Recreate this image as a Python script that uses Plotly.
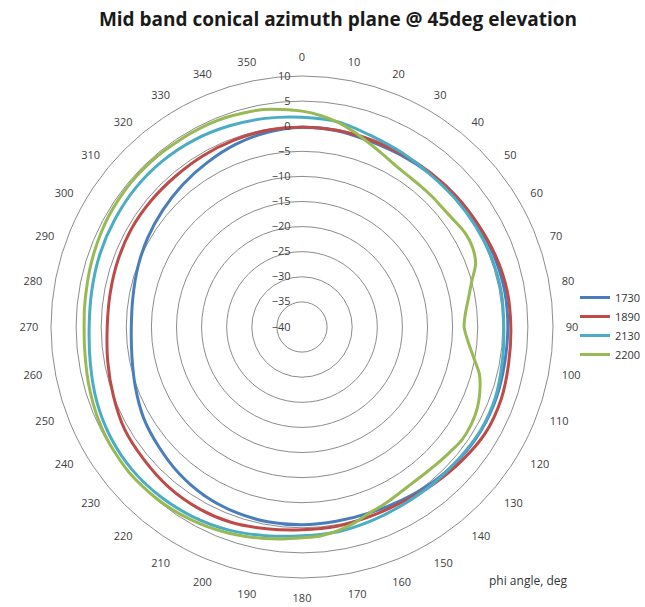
import plotly.graph_objects as go

theta = list(range(0, 361, 10))

s1730 = [-0.2, -0.3, -0.6, -0.5, -0.2, 0.2, 0.5, 0.8, 1.0, 1.0, 1.0, 1.2, 1.2, 0.9, 0.4, -0.2, -0.6, -0.7,
         -0.6, -0.6, -0.8, -1.2, -1.9, -2.8, -3.6, -4.7, -5.6, -6.0, -5.8, -5.2, -4.5, -3.8, -3.0, -2.2, -1.3, -0.6, -0.2]
s1890 = [-0.2, -0.2, -0.3, -0.2, 0.0, 0.3, 0.6, 1.1, 1.5, 1.6, 1.8, 2.2, 2.2, 1.5, 0.8, 0.2, 0.1, 0.3,
         0.4, 0.8, 1.4, 1.6, 1.5, 1.1, 0.8, 0.0, -0.7, -1.2, -1.2, -1.0, -0.8, -0.8, -0.8, -0.6, -0.4, -0.2, -0.2]
s2130 = [1.8, 1.5, 0.5, 0.0, -0.3, -0.2, 0.0, 0.2, 0.3, 0.2, 0.5, 1.0, 1.1, 0.8, 0.7, 0.7, 1.0, 1.4,
         1.6, 2.2, 3.0, 3.6, 4.0, 4.2, 4.0, 3.5, 2.8, 2.4, 2.5, 2.8, 3.0, 3.2, 3.2, 3.0, 2.6, 2.2, 1.8]
theta_g = list(range(0, 361, 5))
s2200 = [3.0, 2.3, 1.4, 0.2, -1.0, -2.0, -2.8, -3.2, -3.3, -3.3, -3.3, -3.0, -2.5, -2.5, -3.2, -5.0, -6.3, -7.3,
         -7.7, -6.8, -5.3, -3.4, -2.3, -1.5, -1.1, -1.0, -1.4, -1.7, -1.9, -1.9, -1.6, -1.1, -0.6, 0.4, 1.2, 1.8,
         2.0, 2.4, 2.8, 3.2, 3.6, 4.0, 4.3, 4.6, 4.8, 4.9, 5.0, 4.9, 4.8, 4.6, 4.3, 4.0, 3.7, 3.5, 3.4, 3.5,
         3.6, 3.8, 4.0, 4.2, 4.4, 4.5, 4.6, 4.6, 4.6, 4.5, 4.5, 4.5, 4.4, 4.2, 4.0, 3.5, 3.0]

names = ["1730", "1890", "2130", "2200"]
colors = ["#4A7EBB", "#BE4B48", "#4BACC6", "#98B954"]
radial_ticks = list(range(-40, 11, 5))
angle_ticks = list(range(0, 360, 10))

fig = go.Figure()
for nm, col, th, r in [(names[0], colors[0], theta, s1730), (names[1], colors[1], theta, s1890),
                       (names[2], colors[2], theta, s2130), (names[3], colors[3], theta_g, s2200)]:
    fig.add_trace(go.Scatterpolar(theta=th, r=r, mode="lines", name=nm,
                                  line=dict(color=col, width=3, shape="spline", smoothing=0.8)))

W, H = 645, 607
cx, cy, R = 302, 327, 251
fig.update_layout(
    width=W, height=H,
    margin=dict(l=0, r=0, t=0, b=0, autoexpand=False),
    paper_bgcolor="white",
    font=dict(family="Open Sans, Noto Sans, sans-serif", color="#333333"),
    title=dict(text="<b>Mid band conical azimuth plane @ 45deg elevation</b>",
               x=338 / W, y=1 - 19 / H, xanchor="center", yanchor="middle",
               font=dict(size=19, color="#1a1a1a", family="Open Sans, sans-serif")),
    polar=dict(
        domain=dict(x=[(cx - R) / W, (cx + R) / W], y=[1 - (cy + R) / H, 1 - (cy - R) / H]),
        bgcolor="white",
        radialaxis=dict(range=[-40, 10], tickvals=radial_ticks, angle=90, side="counterclockwise",
                        tickangle=90, showline=False, ticks="outside", ticklen=7,
                        tickcolor="rgba(0,0,0,0)", gridcolor="#8c8c8c", gridwidth=1,
                        tickfont=dict(size=11, color="#404040")),
        angularaxis=dict(rotation=90, direction="clockwise", tickvals=angle_ticks,
                         showgrid=False, showline=True, linecolor="#8c8c8c", linewidth=1,
                         ticks="outside", ticklen=10, tickcolor="rgba(0,0,0,0)",
                         tickfont=dict(size=11, color="#404040")),
    ),
    legend=dict(x=575 / W, y=1 - 283 / H, xanchor="left", yanchor="top",
                font=dict(size=11, color="#333333"), bgcolor="rgba(0,0,0,0)"),
    annotations=[dict(text="phi angle, deg", x=528 / W, y=1 - 580 / H, xref="paper", yref="paper",
                      showarrow=False, xanchor="center", yanchor="middle",
                      font=dict(size=12, color="#333333"))],
)

fig.write_html("out.html")
